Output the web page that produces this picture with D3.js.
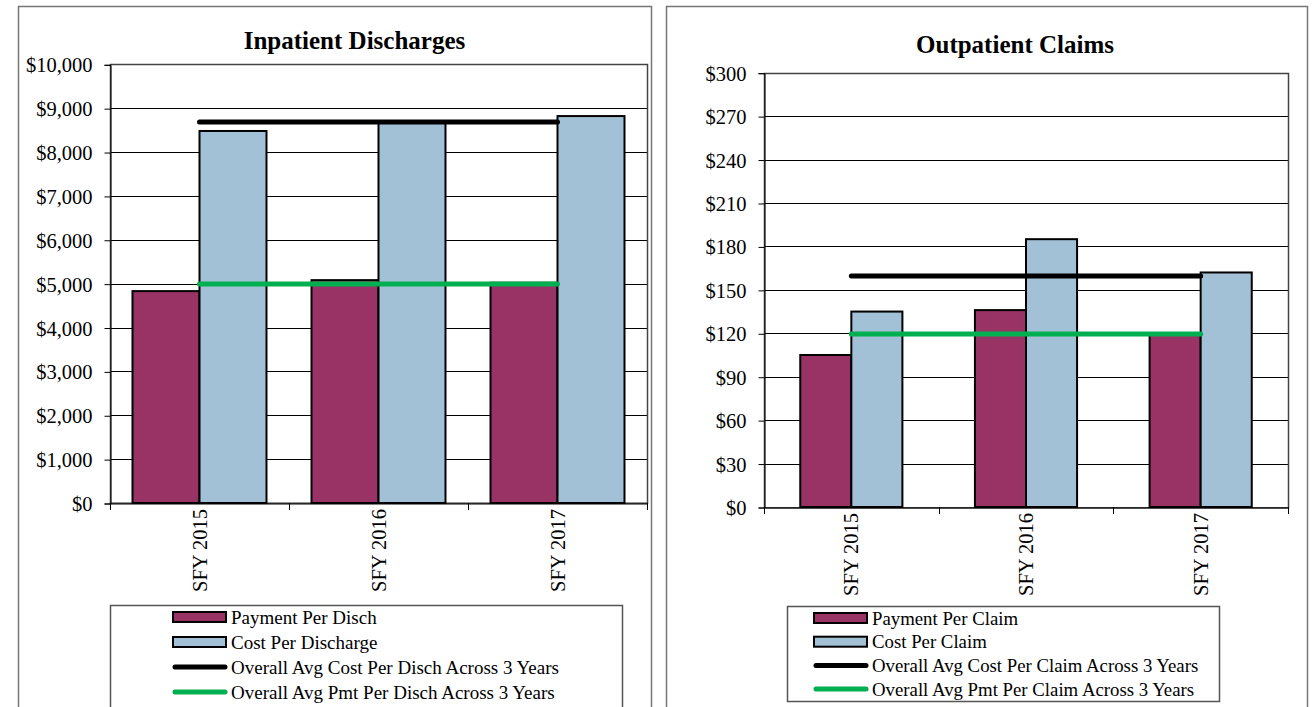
<!DOCTYPE html>
<html><head><meta charset="utf-8">
<script src="https://cdn.jsdelivr.net/npm/d3@7"></script>
<style>
html,body{margin:0;padding:0;background:#fff;}
svg{display:block;}
text{font-family:"Liberation Serif","Times New Roman",serif;fill:#000;}
</style></head>
<body>
<svg id="c" width="1314" height="707"></svg>
<script>
const categories = ["SFY 2015", "SFY 2016", "SFY 2017"];

const inpTitle = "Inpatient Discharges";
const inpPayment = [4830, 5080, 5020];
const inpCost = [8480, 8690, 8820];
const inpAvgCost = 8685;
const inpAvgPmt = 4990;
const inpTicks = [0,1000,2000,3000,4000,5000,6000,7000,8000,9000,10000];
const inpLegend = ["Payment Per Disch","Cost Per Discharge","Overall Avg Cost Per Disch Across 3 Years","Overall Avg Pmt Per Disch Across 3 Years"];

const outTitle = "Outpatient Claims";
const outPayment = [105, 136, 119];
const outCost = [135, 185, 162];
const outAvgCost = 159.5;
const outAvgPmt = 119.5;
const outTicks = [0,30,60,90,120,150,180,210,240,270,300];
const outLegend = ["Payment Per Claim","Cost Per Claim","Overall Avg Cost Per Claim Across 3 Years","Overall Avg Pmt Per Claim Across 3 Years"];

const MAROON = "#993366", BLUE = "#A3C1D6", GREEN = "#00B050";
const FONT = "'Liberation Serif','Times New Roman',serif";
const svg = d3.select("#c");

function panel(cfg){
  const g = svg.append("g");
  g.append("rect").attr("x",cfg.frame[0]+0.5).attr("y",cfg.frame[1]+0.5)
    .attr("width",cfg.frame[2]).attr("height",cfg.frame[3])
    .attr("fill","#fff").attr("stroke","#777").attr("stroke-width",1.5);
  const [x0,y0,x1,y1] = cfg.plot;
  const y = d3.scaleLinear().domain([0, d3.max(cfg.ticks)]).range([y1,y0]);
  const x = d3.scaleBand().domain(categories).range([x0,x1]);
  const inner = d3.scaleBand().domain([0,1]).range([0, x.bandwidth()])
    .paddingInner(0).paddingOuter(cfg.outerPad);
  // gridlines
  g.append("g").selectAll("line").data(cfg.ticks.slice(1)).join("line")
    .attr("x1",x0).attr("x2",x1).attr("y1",d=>Math.round(y(d))+0.5).attr("y2",d=>Math.round(y(d))+0.5)
    .attr("stroke","#000").attr("stroke-width",1);
  g.append("rect").attr("x",x0+0.5).attr("y",Math.round(y0)+0.5).attr("width",x1-x0).attr("height",y1-y0)
    .attr("fill","none").attr("stroke","#444").attr("stroke-width",1.5);
  // y axis
  const ya = d3.axisLeft(y).tickValues(cfg.ticks).tickSize(6).tickPadding(12)
    .tickFormat(d=>"$"+d3.format(",")(d));
  const yg = g.append("g").attr("transform",`translate(${x0+0.5},0.5)`).call(ya)
    .attr("font-family",FONT).attr("font-size",20.5);
  yg.select(".domain").attr("stroke","#000");
  yg.selectAll(".tick line").attr("stroke","#000");
  yg.selectAll("text").attr("dy","0.34em");
  // x axis
  const xa = d3.axisBottom(x).tickSize(0).tickFormat("");
  const xg = g.append("g").attr("transform",`translate(0,${Math.round(y1)+0.5})`).call(xa);
  xg.select(".domain").attr("stroke","#000");
  g.append("g").selectAll("line").data([0,1,2,3]).join("line")
    .attr("x1",i=>Math.round(x0+i*x.step())+0.5).attr("x2",i=>Math.round(x0+i*x.step())+0.5)
    .attr("y1",y1).attr("y2",y1+7).attr("stroke","#000");
  // bars
  const series = [{v:cfg.payment,c:MAROON},{v:cfg.cost,c:BLUE}];
  series.forEach((s,si)=>{
    g.append("g").selectAll("rect").data(categories).join("rect")
      .attr("x",(d)=>x(d)+inner(si))
      .attr("y",(d,i)=>y(s.v[i]))
      .attr("width",inner.bandwidth())
      .attr("height",(d,i)=>y(0)-y(s.v[i]))
      .attr("fill",s.c).attr("stroke","#000").attr("stroke-width",2);
  });
  const cx = d=>x(d)+x.bandwidth()/2;
  [[cfg.avgCost,"#000"],[cfg.avgPmt,GREEN]].forEach(([v,c])=>{
    g.append("line").attr("x1",cx(categories[0])).attr("x2",cx(categories[2]))
      .attr("y1",y(v)).attr("y2",y(v))
      .attr("stroke",c).attr("stroke-width",5).attr("stroke-linecap","round");
  });
  // x labels
  g.append("g").selectAll("text").data(categories).join("text")
    .attr("transform",d=>`translate(${cx(d)+7},${y1+cfg.xlabGap}) rotate(-90)`)
    .attr("text-anchor","end").style("font-size","20.5px").text(d=>d);
  // title
  g.append("text").attr("x",cfg.titleX).attr("y",cfg.titleY).attr("text-anchor","middle")
    .style("font-size","25px").style("font-weight","bold").text(cfg.title);
  // legend
  const L = cfg.legend;
  g.append("rect").attr("x",L.x+0.5).attr("y",L.y+0.5).attr("width",L.w).attr("height",L.h)
    .attr("fill","#fff").attr("stroke","#555").attr("stroke-width",1.5);
  cfg.legendLabels.forEach((t,i)=>{
    const yy = L.y + L.first + i*L.step;
    if(i<2){
      g.append("rect").attr("x",L.sx).attr("y",yy-5).attr("width",L.sw).attr("height",10)
        .attr("fill",i==0?MAROON:BLUE).attr("stroke","#000").attr("stroke-width",2);
    } else {
      g.append("line").attr("x1",L.sx+2).attr("x2",L.sx+L.sw-1).attr("y1",yy).attr("y2",yy)
        .attr("stroke",i==2?"#000":GREEN).attr("stroke-width",5).attr("stroke-linecap","round");
    }
    g.append("text").attr("x",L.sx+L.sw+5).attr("y",yy+6.5).style("font-size",L.fs+"px").text(t);
  });
}

panel({frame:[18,6,633,720], plot:[110,64.3,647,503], ticks:inpTicks, payment:inpPayment, cost:inpCost,
  avgCost:inpAvgCost, avgPmt:inpAvgPmt, outerPad:0.336, title:inpTitle, titleX:354.5, titleY:49, xlabGap:6,
  legend:{x:110,y:605,w:512,h:120,first:12,step:25,sx:173,sw:53,fs:19}, legendLabels:inpLegend});

panel({frame:[666,6,641,720], plot:[764,72.7,1288,507], ticks:outTicks, payment:outPayment, cost:outCost,
  avgCost:outAvgCost, avgPmt:outAvgPmt, outerPad:0.71, title:outTitle, titleX:1015, titleY:53, xlabGap:6,
  legend:{x:787,y:606,w:432,h:95,first:12,step:23.7,sx:814,sw:53,fs:18.8}, legendLabels:outLegend});
</script>
</body></html>
